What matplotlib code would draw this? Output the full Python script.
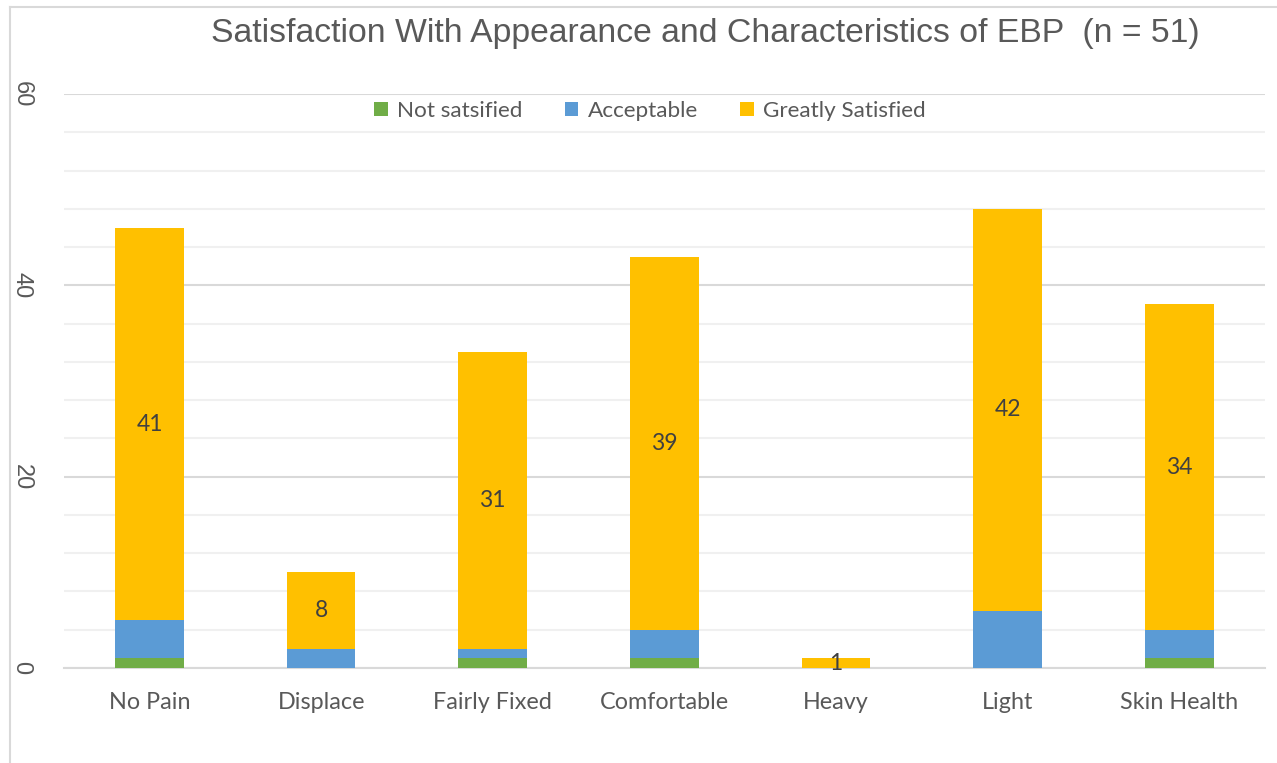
import numpy as np
import matplotlib.pyplot as plt
from matplotlib.lines import Line2D
from matplotlib.ticker import MultipleLocator

categories = ['No Pain', 'Displace', 'Fairly Fixed', 'Comfortable', 'Heavy', 'Light', 'Skin Health']
not_satisfied = [1, 0, 1, 1, 0, 0, 1]
acceptable = [4, 2, 1, 3, 0, 6, 3]
greatly_satisfied = [41, 8, 31, 39, 1, 42, 34]

series = [('Not satsified', not_satisfied, '#70AD47'),
          ('Acceptable', acceptable, '#5B9BD5'),
          ('Greatly Satisfied', greatly_satisfied, '#FFC000')]

txt = '#595959'
fig = plt.figure(figsize=(12.77, 7.63), dpi=100)
ax = fig.add_axes([0.0499, 0.1245, 0.9407, 0.7523])

x = np.arange(len(categories))
bottom = np.zeros(len(categories))
for name, vals, col in series:
    vals = np.array(vals)
    ax.bar(x, vals, 0.4, bottom=bottom, color=col, label=name, zorder=3)
    if name == 'Greatly Satisfied':
        # data labels only on the top series
        for xi, b, v in zip(x, bottom, vals):
            ax.text(xi, b + v / 2, str(v), ha='center', va='center',
                    fontsize=16.5, color='#404040', family='Lato', zorder=4)
    bottom += vals

ax.set_xlim(-0.5, len(categories) - 0.5)
ax.set_ylim(0, 60)
ax.yaxis.set_major_locator(MultipleLocator(20))
ax.yaxis.set_minor_locator(MultipleLocator(4))
ax.grid(axis='y', which='major', color='#d9d9d9', linewidth=1.5, zorder=0)
ax.grid(axis='y', which='minor', color='#f0f0f0', linewidth=1.5, zorder=0)
for s in ['top', 'right', 'left']:
    ax.spines[s].set_visible(False)
ax.spines['bottom'].set_color('#d9d9d9')
ax.spines['bottom'].set_linewidth(1.5)
ax.tick_params(axis='both', which='both', length=0)
ax.set_xticks(x)
ax.set_xticklabels(categories, fontsize=16.8, color=txt, family='Lato')
ax.tick_params(axis='x', pad=17)
ax.tick_params(axis='y', pad=22.5)
for lbl in ax.get_yticklabels():
    lbl.set_rotation(-90)
    lbl.set_fontsize(17)
    lbl.set_family('Liberation Sans')
    lbl.set_color(txt)
    lbl.set_va('center')

fig.text(0.5525, 0.956, 'Satisfaction With Appearance and Characteristics of EBP  (n = 51)',
         ha='center', va='center', fontsize=24.3, color=txt, family='Liberation Sans')

ax.legend(loc='center', bbox_to_anchor=(0.509, 0.855), bbox_transform=fig.transFigure,
          ncol=3, frameon=False, handlelength=0.6, handleheight=0.6,
          handletextpad=0.4, columnspacing=1.9, prop={'family': 'Lato', 'size': 16.2},
          labelcolor=txt)

# outer chart border (partially visible)
fig.add_artist(Line2D([10 / 1277, 10 / 1277], [0, 1 - 7 / 763], color='#d9d9d9', lw=1.5))
fig.add_artist(Line2D([10 / 1277, 1], [1 - 7 / 763, 1 - 7 / 763], color='#d9d9d9', lw=1.5))

fig.savefig('out.png', dpi=100, facecolor='white')
